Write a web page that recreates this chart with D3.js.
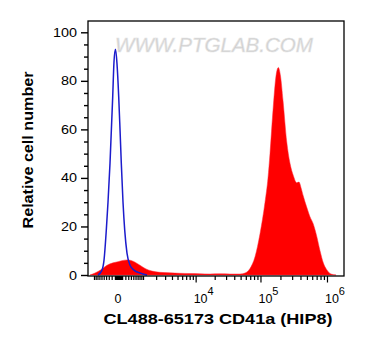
<!DOCTYPE html>
<html><head><meta charset="utf-8">
<script src="https://cdn.jsdelivr.net/npm/d3@7/dist/d3.min.js"></script>
<style>body{margin:0;background:#fff}svg{display:block}text{font-family:"Liberation Sans",Arial,sans-serif}</style>
</head><body>
<svg id="c" width="365" height="360"></svg>
<script>
const blueX = [-772,-576,-488,-393,-328,-256,-166,-126,-82,-40,5,40,76,126,179,255,366,531,825,1256];
const blueY = [0,2,6,18.5,30,46,73.5,88,93,87,73.5,60,46,30,18.5,9,4,2,0.8,0];
const redX = [-1256,-938,-622,-365,-157,-13,126,255,404,575,825,1187,1633,2390,3684,5517,8100,11745,16890,24165,34460,48970,58300,69450,82700,98400,117100,129900,139200,154600,171400,185800,200500,218500,248500,278500,312200,351000,380300,407700,441300,496100,556100,623200,701700,786400,881000,991700,1150000,1367000];
const redY = [0,0.8,2.2,4,5,5.5,6,6.2,6,5.3,4,2.5,1.6,1.1,0.9,0.7,0.6,0.5,0.4,0.5,0.4,0.4,0.8,2.7,7.5,17,30,40,50,68,82,85.5,82,72,55,46,41,38,38.3,36,32.5,28,24,21,16,10,5,2.2,0.4,0];
const yTicks = [0,20,40,60,80,100];
const xMajor = [0,1e4,1e5,1e6];
const xMajorLabels = ["0","4","5","6"];
const xTitle = "CL488-65173 CD41a (HIP8)";
const yTitle = "Relative cell number";
const watermark = "WWW.PTGLAB.COM";

const svg = d3.select("#c");
const L=88, R=344, T=21, B=276;
const x = d3.scaleSymlog().constant(750).domain([-1400,1.8e6]).range([L,R]);
const y = d3.scaleLinear().domain([0,100]).range([275,32.3]);

// watermark
svg.append("text").attr("x",115).attr("y",51.7).attr("font-size",21)
  .attr("font-style","italic").attr("fill","#cfcfcf").attr("stroke","#e6e6e6").attr("stroke-width",0.6)
  .attr("textLength",198).attr("lengthAdjust","spacingAndGlyphs").text(watermark);

const red = redX.map((v,i)=>[v,redY[i]]);
const blue = blueX.map((v,i)=>[v,blueY[i]]);
const g = svg.append("g");
g.append("path").datum(red)
  .attr("d", d3.area().x(d=>x(d[0])).y0(y(0)).y1(d=>y(d[1])).curve(d3.curveMonotoneX))
  .attr("fill","#ff0000").attr("stroke","#ff2a3a").attr("stroke-width",0.5);
g.append("path").datum(blue)
  .attr("d", d3.line().x(d=>x(d[0])).y(d=>y(d[1])).curve(d3.curveMonotoneX))
  .attr("fill","none").attr("stroke","#1c1ccc").attr("stroke-width",1.5);

// frame
svg.append("rect").attr("x",L).attr("y",T).attr("width",R-L).attr("height",B-T)
  .attr("fill","none").attr("stroke","#000").attr("stroke-width",1.3);

// y axis
const yMinor = d3.range(0,101,5).filter(v=>v%20!==0);
const yAx = svg.append("g").attr("transform",`translate(${L},0)`);
yAx.call(d3.axisLeft(y).tickValues(yMinor).tickSize(4).tickFormat(""));
yAx.append("g").call(d3.axisLeft(y).tickValues(yTicks).tickSize(7).tickFormat(""));
yAx.selectAll(".domain").remove();
yAx.selectAll("line").attr("stroke-width",1.4);
yTicks.forEach(v=>{
  const s=String(v);
  svg.append("text").attr("x",77).attr("y",y(v)+4.5).attr("text-anchor","end")
    .attr("font-size",12.5).attr("textLength",s.length*8).attr("lengthAdjust","spacingAndGlyphs").text(s);
});

// x axis
const xMinor = [];
[10,20,30,40,50,60,70,80,90,100,200,300,400,500,600,700,800,900,1000].forEach(v=>{xMinor.push(-v); xMinor.push(v);});
[2,3,4,5,6,7,8,9].forEach(m=>{xMinor.push(m*1e3);xMinor.push(m*1e4);xMinor.push(m*1e5);});
const xAx = svg.append("g").attr("transform",`translate(0,${B})`);
xAx.call(d3.axisBottom(x).tickValues(xMinor).tickSize(4).tickFormat(""));
xAx.append("g").call(d3.axisBottom(x).tickValues(xMajor.slice(1)).tickSize(6.5).tickFormat(""));
xAx.selectAll(".domain").remove();
xAx.selectAll("line").attr("stroke-width",1.2);
xMajor.forEach((v,i)=>{
  if(i===0){
    svg.append("text").attr("x",x(v)-0.5).attr("y",303).attr("text-anchor","middle").attr("font-size",12.5).text("0");
  } else {
    const t = svg.append("text").attr("x",x(v)+8).attr("y",303).attr("text-anchor","middle").attr("font-size",12.5);
    t.append("tspan").text("10");
    t.append("tspan").attr("dy",-8).attr("font-size",11).text(xMajorLabels[i]);
  }
});

// titles
svg.append("text").attr("x",218).attr("y",323.5).attr("text-anchor","middle")
  .attr("font-size",15).attr("font-weight","bold").attr("textLength",229).attr("lengthAdjust","spacingAndGlyphs").text(xTitle);
svg.append("text").attr("transform","translate(33,150) rotate(-90)").attr("text-anchor","middle")
  .attr("font-size",14.5).attr("font-weight","bold").attr("textLength",157).attr("lengthAdjust","spacingAndGlyphs").text(yTitle);
</script>
</body></html>
